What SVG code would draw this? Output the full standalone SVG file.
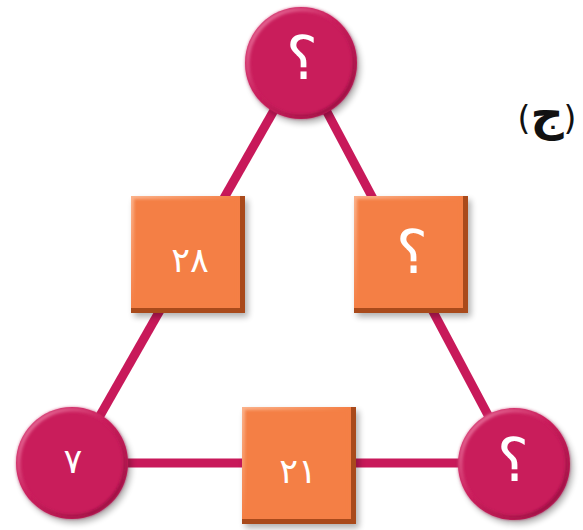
<svg xmlns="http://www.w3.org/2000/svg" xmlns:xlink="http://www.w3.org/1999/xlink" width="583" height="530" viewBox="0 0 583 530">
<style>
.conn{stroke:#C8195A;stroke-width:9;fill:none;stroke-linecap:butt}
.lbl{font-family:"DejaVu Sans",sans-serif;fill:#FFFFFF;text-anchor:middle}
.q{font-size:60px}
.num{font-size:35px}
.tag{font-family:"DejaVu Sans",sans-serif;font-size:33px;fill:#111111;text-anchor:middle}
.big{font-size:46px;font-weight:bold}
</style>
<defs>
<filter id="blur3" x="-20%" y="-20%" width="140%" height="140%"><feGaussianBlur stdDeviation="3"/></filter>
<filter id="blur1" x="-20%" y="-20%" width="140%" height="140%"><feGaussianBlur stdDeviation="1.5"/></filter>
<linearGradient id="rim" x1="0" y1="0" x2="1" y2="1">
<stop offset="0" stop-color="#F08AAE"/>
<stop offset="0.45" stop-color="#CB1D5C"/>
<stop offset="1" stop-color="#8A0C3A"/>
</linearGradient>
<linearGradient id="faceHl" x1="0" y1="0" x2="1" y2="1">
<stop offset="0" stop-color="#FBB38C"/>
<stop offset="0.5" stop-color="#F47F45"/>
<stop offset="1" stop-color="#F47F45"/>
</linearGradient>
<g id="disc">
<circle cx="3" cy="4" r="56" fill="#000" opacity="0.3" filter="url(#blur3)"/>
<circle cx="0" cy="0" r="56" fill="#C91D5B"/>
<circle cx="0" cy="0" r="53.5" fill="none" stroke="url(#rim)" stroke-width="4" filter="url(#blur1)"/>
</g>
<g id="box">
<rect x="3" y="4" width="114" height="117" fill="#000" opacity="0.3" filter="url(#blur3)"/>
<rect x="0" y="0" width="114" height="117" fill="#A94A1B"/>
<rect x="0" y="0" width="109" height="112" fill="url(#faceHl)"/>
<rect x="3" y="3" width="103" height="106" fill="#F47F45" filter="url(#blur1)"/>
</g>
</defs>
<g id="connectors">
<line class="conn" x1="301" y1="63" x2="73" y2="463"/>
<line class="conn" x1="301" y1="63" x2="514" y2="464"/>
<line class="conn" x1="72" y1="463" x2="514" y2="463"/>
</g>
<g id="node-top"><use xlink:href="#disc" transform="translate(301,63)"/><text class="lbl q" x="302" y="79">؟</text></g>
<g id="node-left"><use xlink:href="#disc" transform="translate(72,463)"/><text class="lbl num" x="73" y="473">٧</text></g>
<g id="node-right"><use xlink:href="#disc" transform="translate(514,464)"/><text class="lbl q" x="513" y="481">؟</text></g>
<g id="box-28"><use xlink:href="#box" transform="translate(131,196)"/><text class="lbl num" x="190" y="272">٢٨</text></g>
<g id="box-q"><use xlink:href="#box" transform="translate(354,196)"/><text class="lbl q" x="412" y="273">؟</text></g>
<g id="box-21"><use xlink:href="#box" transform="translate(242,407)"/><text class="lbl num" x="298" y="483">٢١</text></g>
<g id="label"><text class="tag" x="547" y="130">(<tspan class="big">ج</tspan>)</text></g>
</svg>
